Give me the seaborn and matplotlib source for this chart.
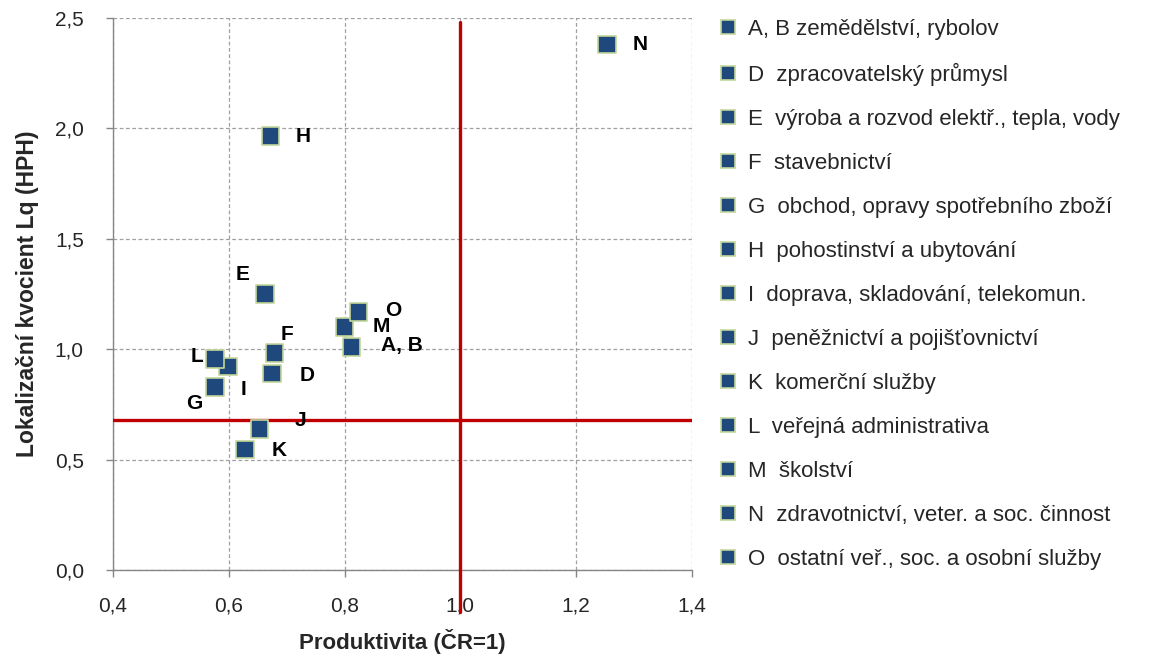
import pandas as pd
import matplotlib
matplotlib.use("Agg")
import matplotlib.pyplot as plt
import seaborn as sns
from matplotlib.ticker import FuncFormatter

# data
kody = ["A, B", "D", "E", "F", "G", "H", "I", "J", "K", "L", "M", "N", "O"]
nazvy = [
    "A, B zemědělství, rybolov",
    "D  zpracovatelský průmysl",
    "E  výroba a rozvod elektř., tepla, vody",
    "F  stavebnictví",
    "G  obchod, opravy spotřebního zboží",
    "H  pohostinství a ubytování",
    "I  doprava, skladování, telekomun.",
    "J  peněžnictví a pojišťovnictví",
    "K  komerční služby",
    "L  veřejná administrativa",
    "M  školství",
    "N  zdravotnictví, veter. a soc. činnost",
    "O  ostatní veř., soc. a osobní služby",
]
produktivita = [0.812, 0.674, 0.662, 0.679, 0.576, 0.672, 0.598, 0.653, 0.628, 0.576, 0.800, 1.253, 0.824]
lq = [1.009, 0.890, 1.252, 0.982, 0.830, 1.965, 0.922, 0.640, 0.546, 0.954, 1.100, 2.380, 1.170]

# reference lines (CR average and Lq threshold)
ref_x = 1.0
ref_y = 0.68

# label offsets in pixels (dx, dy) for the point labels
offsety = {
    "A, B": (50, 2), "D": (35, -2), "E": (-22, 19), "F": (12, 19), "G": (-21, -17),
    "H": (33, 0), "I": (16, -23), "J": (41, 8), "K": (34, -1), "L": (-18, 3),
    "M": (37, 1), "N": (33, 0), "O": (35, 1),
}

df = pd.DataFrame({"kod": kody, "nazev": nazvy, "Produktivita": produktivita, "Lq": lq})

sns.set_style("white")
plt.rcParams["font.family"] = ["Liberation Sans", "DejaVu Sans"]

fig = plt.figure(figsize=(11.59, 6.56), dpi=100)
ax = fig.add_axes([0.0975, 0.131, 0.4995, 0.8415])

modra = "#1F497D"
paleta = {n: modra for n in nazvy}
sns.scatterplot(data=df, x="Produktivita", y="Lq", hue="nazev", palette=paleta,
                marker="s", s=165, edgecolor="#C3D69B", linewidth=1.2,
                ax=ax, zorder=4, legend=True)

ax.set_xlim(0.4, 1.4)
ax.set_ylim(0, 2.5)
ax.set_xticks([0.4, 0.6, 0.8, 1.0, 1.2, 1.4])
ax.set_yticks([0.0, 0.5, 1.0, 1.5, 2.0, 2.5])
carka = FuncFormatter(lambda v, p: f"{v:.1f}".replace(".", ","))
ax.xaxis.set_major_formatter(carka)
ax.yaxis.set_major_formatter(carka)
ax.tick_params(axis="both", labelsize=15, length=5, width=1, color="#868686",
               direction="out", bottom=True, left=True)
ax.tick_params(axis="x", pad=14)
ax.tick_params(axis="y", pad=16)

ax.grid(True, linestyle=(0, (3, 2)), color="#A0A0A0", linewidth=0.9)
for s in ["top", "right"]:
    ax.spines[s].set_visible(False)
for s in ["left", "bottom"]:
    ax.spines[s].set_color("#868686")
    ax.spines[s].set_linewidth(1)

# red reference lines
ax.axhline(ref_y, color="#C00000", linewidth=2.4, zorder=3)
ax.plot([ref_x, ref_x], [-0.19, 2.48], color="#C00000", linewidth=2.4,
        zorder=3, clip_on=False)

for k, x, y in zip(kody, produktivita, lq):
    dx, dy = offsety[k]
    ax.annotate(k, (x, y), xytext=(dx, dy), textcoords="offset pixels",
                ha="center", va="center", fontsize=15, fontweight="bold",
                color="black", zorder=5)

ax.set_xlabel("Produktivita (ČR=1)", fontsize=16, fontweight="bold", labelpad=10)
ax.set_ylabel("Lokalizační kvocient Lq (HPH)", fontsize=16.5, fontweight="bold", labelpad=11)

sns.move_legend(ax, "upper left", bbox_to_anchor=(0.611, 0.985),
                bbox_transform=fig.transFigure, frameon=False, title=None,
                fontsize=16, labelspacing=1.035, handletextpad=0.4,
                handlelength=1.0, markerscale=0.8, borderaxespad=0)

plt.savefig("out.png", dpi=100)
